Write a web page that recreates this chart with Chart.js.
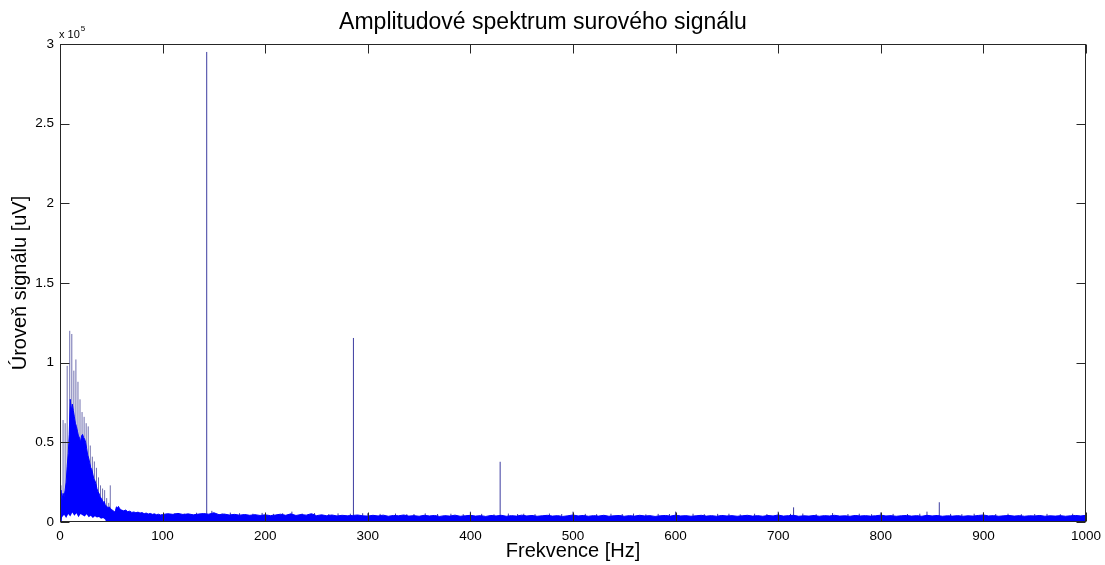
<!DOCTYPE html>
<html>
<head>
<meta charset="utf-8">
<script src="https://cdn.jsdelivr.net/npm/chart.js@4.4.1/dist/chart.umd.min.js"></script>
<style>
  html, body { margin: 0; padding: 0; background: #fff; }
  #wrap { width: 1105px; height: 565px; }
</style>
</head>
<body>
<div id="wrap"><canvas id="spec" width="1105" height="565"></canvas></div>
<script>
// amplitude values in uV, frequencies in Hz
const bodyFreq = [0, 1, 2, 3, 4, 5, 6, 7, 8, 9, 10, 11, 12, 13, 14, 15, 16, 17, 18, 19, 20,
  21, 22, 23, 24, 25, 26, 27, 28, 29, 30, 31, 32, 33, 34, 35, 36, 37, 38, 39, 40,
  41, 42, 43, 44, 45, 46, 47, 48, 49, 50, 51, 52, 53, 54, 55, 56, 57, 58, 59, 60,
  62, 64, 66, 68, 70, 72, 74, 76, 78, 80, 82, 84, 86, 88, 90, 92, 94, 96, 98, 100];
const bodyAmp = [15000, 20000, 14000, 18000, 16000, 20000, 25000, 35000, 43000, 55000, 77000,
  70000, 74000, 70000, 66000, 62000, 60000, 57000, 54000, 53000, 50000,
  54000, 55000, 53000, 52000, 50000, 46000, 42000, 40000, 37000, 34000,
  33000, 30000, 27000, 26000, 24000, 21000, 19000, 18000, 16000, 15000,
  14000, 12000, 13000, 11000, 10000, 9500, 9000, 9500, 8500, 8000,
  7500, 7000, 6500, 7000, 9500, 9000, 9800, 8500, 8000, 7500,
  7000, 7500, 6500, 6800, 6000, 6300, 5800, 6200, 5600, 5900,
  5200, 5600, 5000, 5400, 4800, 5100, 4600, 4900, 4400, 4700];

// noise floor 105..1000 Hz, one value every 5 Hz
const noiseStart = 105;
const noiseStep = 5;
const noiseAmp = [
  5200, 4800, 5400, 4700, 5100, 4500, 5000, 5300, 4900, 5800, 4600, 5000, 4400, 4800, 4300, 4700, 4200, 4600, 4100, 4500,
  4000, 4400, 4900, 4200, 5100, 4100, 4700, 4300, 5200, 4000, 4500, 3900, 4400, 3800, 4200, 3900, 4100, 4400, 3900, 3700,
  4200, 3800, 4300, 3600, 4100, 3900, 4400, 3700, 4000, 3600, 4200, 3800, 4100, 3500, 4000, 3700, 4300, 3600, 3900, 4200,
  3700, 4000, 3500, 4100, 3800, 4200, 3600, 4000, 3700, 4300, 3800, 4100, 3600, 3900, 4200, 3700, 4000, 3500, 3900, 4400,
  3800, 4100, 3600, 4000, 3700, 4200, 3600, 3900, 4100, 3600, 4000, 3700, 4200, 3800, 4000, 3500, 3900, 4100, 3700, 4300,
  3800, 4000, 3600, 3900, 4200, 3700, 4000, 3600, 4100, 3800, 4000, 3600, 3900, 4200, 3700, 4000, 3600, 4100, 3800, 4400,
  3700, 4000, 4200, 3600, 3900, 3700, 4100, 3600, 4000, 3800, 4200, 3700, 3900, 3600, 4100, 3800, 4000, 3700, 3900, 4300,
  3800, 4000, 3600, 3900, 4100, 3700, 4000, 3600, 4200, 3800, 4100, 3600, 3900, 3700, 4000, 3600, 3900, 3700, 4100, 4400,
  3800, 4000, 3600, 3900, 4100, 3700, 4000, 3600, 3900, 3800, 4100, 3600, 3900, 3700, 4000, 3600, 3900, 4100, 3800, 4200];

// white gap under the low-frequency hump
const gapFreq = [1.5, 2, 4, 6, 8, 10, 12, 14, 16, 18, 20, 22, 24, 26, 28, 30, 32, 34, 36, 38, 40, 42, 44, 45];
const gapAmp = [0, 3000, 4500, 2500, 5000, 3500, 6000, 4000, 5500, 3000, 5000, 4200, 3500, 4800, 3000, 4000, 2500, 3600, 2800, 3200, 2000, 2500, 1500, 0];

// thin spikes of the low-frequency hump
const lowFreq = [1, 3, 5, 7, 9.5, 11.5, 13.5, 15.5, 17.5, 19.5, 21.5, 23.5, 25.5, 27.5, 29.5,
  31.5, 33.5, 35.5, 37.5, 39.5, 41.5, 43.5, 45.5, 47.5, 49];
const lowAmp = [23000, 64000, 62000, 98000, 120000, 118000, 95000, 102000, 88000, 77000, 69000, 66000, 62000, 60000, 48000,
  41000, 38000, 34000, 28000, 23000, 21000, 20000, 15000, 12000, 23000];

// harmonic lines and small spikes over the noise floor
const peakFreq = [143, 286, 429, 715, 857, 1000];
const peakAmp = [295000, 115500, 37800, 9200, 12400, 11300];
const minorFreq = [112, 121, 133, 148, 158, 166, 175, 188, 197, 208, 217, 226, 236, 248, 262, 271, 283, 295,
  300, 312, 327, 338, 345, 356, 368, 381, 393, 400, 411, 423, 437, 446, 452, 463, 477, 489,
  500, 512, 523, 537, 548, 559, 571, 583, 594, 600, 617, 628, 641, 652, 663, 677, 689,
  700, 712, 724, 737, 753, 768, 779, 791, 800, 812, 826, 838, 845, 868, 879, 891,
  900, 912, 924, 937, 950, 962, 975, 987];
const minorAmp = [5600, 5300, 5800, 7000, 5400, 5900, 5500, 5200, 5700, 5100, 5500, 6500, 5300, 5600, 5000, 5400, 5200, 5500,
  5500, 5100, 5300, 4900, 5000, 5400, 5000, 5200, 4900, 6500, 5100, 4800, 5300, 5000, 5200, 4900, 5300, 5000,
  6500, 5100, 4900, 5200, 5000, 5300, 4800, 5100, 5000, 6500, 5200, 4900, 5100, 5200, 4800, 5200, 5000,
  6500, 5100, 5300, 4900, 5600, 5000, 5200, 4900, 6000, 5100, 5000, 5200, 6500, 5100, 4900, 5200,
  6000, 5000, 5200, 4900, 5000, 5100, 4900, 5200];

const FONT = "'Liberation Sans', Arial, sans-serif";

function pairs(xs, ys) {
  return xs.map((f, i) => ({ x: f, y: ys[i] }));
}

function stems(xs, ys) {
  const out = [];
  xs.forEach((f, i) => {
    out.push({ x: f, y: 0 }, { x: f, y: ys[i] }, { x: f, y: null });
  });
  return out;
}

const bodyData = pairs(bodyFreq, bodyAmp).concat(
  noiseAmp.map((v, i) => ({ x: noiseStart + i * noiseStep, y: v }))
);

const axisFrame = {
  id: "axisFrame",
  afterDatasetsDraw(chart) {
    const { ctx, chartArea: a, scales: { x, y } } = chart;
    const L = Math.round(a.left) + 0.5, R = Math.round(a.right) - 0.5;
    const T = Math.round(a.top) + 0.5, B = Math.round(a.bottom) - 0.5;
    ctx.save();
    ctx.strokeStyle = "#262626";
    ctx.lineWidth = 1;
    ctx.strokeRect(L, T, R - L, B - T);
    ctx.beginPath();
    x.ticks.forEach(t => {
      const px = Math.round(x.getPixelForValue(t.value)) + 0.5;
      ctx.moveTo(px, B); ctx.lineTo(px, B - 9);
      ctx.moveTo(px, T); ctx.lineTo(px, T + 9);
    });
    y.ticks.forEach(t => {
      const py = Math.round(y.getPixelForValue(t.value)) + 0.5;
      ctx.moveTo(L, py); ctx.lineTo(L + 9, py);
      ctx.moveTo(R, py); ctx.lineTo(R - 9, py);
    });
    ctx.stroke();
    // axis exponent
    ctx.fillStyle = "#000";
    ctx.textBaseline = "alphabetic";
    ctx.font = "11px " + FONT;
    ctx.fillText("x 10", a.left - 1, 38);
    const w = ctx.measureText("x 10").width;
    ctx.font = "8px " + FONT;
    ctx.fillText("5", a.left + w, 31);
    ctx.restore();
  }
};

new Chart(document.getElementById("spec"), {
  type: "line",
  data: {
    datasets: [
      {
        label: "gap",
        data: pairs(gapFreq, gapAmp),
        borderWidth: 0,
        backgroundColor: "#ffffff",
        fill: "origin",
        pointRadius: 0,
        order: 0,
      },
      {
        label: "spektrum",
        data: bodyData,
        borderColor: "#0000ff",
        backgroundColor: "#0000ff",
        borderWidth: 1,
        fill: "origin",
        pointRadius: 0,
        tension: 0,
        order: 1,
      },
      {
        label: "low spikes",
        data: stems(lowFreq, lowAmp),
        borderColor: "rgb(110,110,175)",
        borderWidth: 1,
        pointRadius: 0,
        spanGaps: false,
        order: 2,
      },
      {
        label: "harmonics",
        data: stems(peakFreq.concat(minorFreq), peakAmp.concat(minorAmp)),
        borderColor: "rgb(60,60,160)",
        borderWidth: 1,
        pointRadius: 0,
        spanGaps: false,
        order: 3,
      },
    ],
  },
  options: {
    responsive: false,
    animation: false,
    devicePixelRatio: 1,
    layout: { padding: { left: 0, right: 19, top: 0, bottom: 0 } },
    plugins: {
      legend: { display: false },
      tooltip: { enabled: false },
      title: {
        display: true,
        text: "Amplitudové spektrum surového signálu",
        color: "#000",
        font: { family: FONT, size: 23, weight: "normal" },
        padding: { top: 9, bottom: 7.4 },
      },
    },
    scales: {
      x: {
        type: "linear",
        min: 0,
        max: 1000,
        grid: { display: false, drawTicks: false },
        border: { display: false },
        ticks: {
          stepSize: 100,
          color: "#000",
          font: { family: FONT, size: 13.5 },
          padding: 6,
          maxRotation: 0,
          autoSkip: false,
          callback: (v) => String(v),
        },
        title: { display: true, text: "Frekvence [Hz]", color: "#000", font: { family: FONT, size: 20 }, padding: { top: 0, bottom: 2 } },
        afterFit: (s) => { s.height = 43; s.paddingLeft = 0; s.paddingRight = 19; },
      },
      y: {
        type: "linear",
        min: 0,
        max: 300000,
        grid: { display: false, drawTicks: false },
        border: { display: false },
        ticks: {
          stepSize: 50000,
          color: "#000",
          font: { family: FONT, size: 13.5 },
          padding: 6,
          callback: (v) => String(v / 100000),
        },
        title: { display: true, text: "Úroveň signálu [uV]", color: "#000", font: { family: FONT, size: 20 }, padding: { top: 8, bottom: 0 } },
        afterFit: (s) => { s.width = 60; },
      },
    },
  },
  plugins: [axisFrame],
});
</script>
</body>
</html>
